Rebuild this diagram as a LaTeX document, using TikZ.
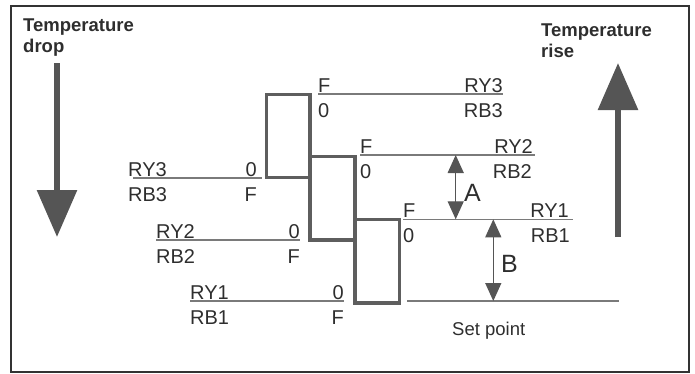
\documentclass[tikz,border=0pt]{standalone}
\usepackage{fontspec}
\setmainfont{Liberation Sans}
\usetikzlibrary{arrows.meta}
\definecolor{txtgray}{HTML}{2E2E2E}
\definecolor{boxgray}{HTML}{5E5E5E}
\definecolor{linegray}{HTML}{7A7A7A}
\definecolor{arrgray}{HTML}{555555}
\definecolor{framegray}{HTML}{333333}
\tikzset{
  lbl/.style={font=\fontsize{20}{24}\selectfont, text=txtgray, inner sep=0pt},
  abvL/.style={lbl, anchor=base west, yshift=2pt},
  belL/.style={lbl, anchor=base west, yshift=-23pt},
  abvR/.style={lbl, anchor=base east, yshift=2pt},
  belR/.style={lbl, anchor=base east, yshift=-23pt},
  ttl/.style={font=\bfseries\fontsize{18.5}{21}\selectfont, text=txtgray, inner sep=0pt, align=left, anchor=north west},
  level/.style={draw=linegray, line width=1.3pt},
  contact/.style={draw=boxgray, line width=3.4pt},
  trend/.style={draw=arrgray, line width=6pt, -{Triangle[width=39pt,length=47pt]}},
  gap/.style={draw=arrgray, line width=1.3pt, {Triangle[width=16pt,length=18pt]}-{Triangle[width=16pt,length=18pt]}},
}
\begin{document}
\begin{tikzpicture}[x=1pt, y=-1pt]
    \useasboundingbox (0,0) rectangle (695,373);
    \draw[framegray, line width=1.3pt] (11,6) rectangle (689,372);

    \node[ttl] (dropT) at (23,19) {Temperature\\drop};
    \node[ttl] (riseT) at (541,23.3) {Temperature\\rise};

    \coordinate (dropS) at (57,63);
    \coordinate (dropE) at (57,237);
    \coordinate (riseS) at (618,237);
    \coordinate (riseE) at (618,63);
    \draw[trend] (dropS) -- (dropE);
    \draw[trend] (riseS) -- (riseE);

    % relay contacts
    \draw[contact] (266.7,94.3) rectangle (310,177.7);
    \draw[contact] (310,156.7) rectangle (355,240);
    \draw[contact] (355,219.3) rectangle (399.3,303);

    % stage 3
    \coordinate (r3a) at (318,94);
    \coordinate (r3b) at (503,94);
    \coordinate (l3a) at (133,178);
    \coordinate (l3b) at (262,178);
    \draw[level] (r3a) -- (r3b);
    \draw[level] (l3a) -- (l3b);
    \node[abvL] (r3F) at (r3a) {F};
    \node[belL] (r3O) at (r3a) {0};
    \node[abvR] (r3Y) at (r3b) {RY3};
    \node[belR] (r3B) at (r3b) {RB3};
    \node[abvL, xshift=-5pt] (l3Y) at (l3a) {RY3};
    \node[belL, xshift=-5pt] (l3B) at (l3a) {RB3};
    \node[abvR, xshift=-5pt] (l3O) at (l3b) {0};
    \node[belR, xshift=-5pt] (l3F) at (l3b) {F};

    % stage 2
    \coordinate (r2a) at (360,155);
    \coordinate (r2b) at (535,155);
    \coordinate (l2a) at (156,240);
    \coordinate (l2b) at (300,240);
    \draw[level] (r2a) -- (r2b);
    \draw[level] (l2a) -- (l2b);
    \node[abvL] (r2F) at (r2a) {F};
    \node[belL] (r2O) at (r2a) {0};
    \node[abvR, xshift=-2pt] (r2Y) at (r2b) {RY2};
    \node[belR, xshift=-3pt] (r2B) at (r2b) {RB2};
    \node[abvL] (l2Y) at (l2a) {RY2};
    \node[belL] (l2B) at (l2a) {RB2};
    \node[abvR] (l2O) at (l2b) {0};
    \node[belR] (l2F) at (l2b) {F};

    % stage 1
    \coordinate (r1a) at (403,219.3);
    \coordinate (r1b) at (573,219.3);
    \coordinate (l1a) at (190,301);
    \coordinate (l1b) at (344,301);
    \draw[level] (r1a) -- (r1b);
    \draw[level] (l1a) -- (l1b);
    \node[abvL] (r1F) at (r1a) {F};
    \node[belL] (r1O) at (r1a) {0};
    \node[abvR, xshift=-4pt] (r1Y) at (r1b) {RY1};
    \node[belR, xshift=-3pt] (r1B) at (r1b) {RB1};
    \node[abvL] (l1Y) at (l1a) {RY1};
    \node[belL] (l1B) at (l1a) {RB1};
    \node[abvR] (l1O) at (l1b) {0};
    \node[belR] (l1F) at (l1b) {F};

    % set point and differentials
    \coordinate (sp1) at (407,301);
    \coordinate (sp2) at (619,301);
    \draw[level] (sp1) -- (sp2);
    \node[lbl, font=\fontsize{18.5}{22}\selectfont, anchor=base west] (setp) at (452,335) {Set point};

    \coordinate (gapA1) at (455.7,155);
    \coordinate (gapA2) at (455.7,219.3);
    \coordinate (gapB1) at (493.3,219.3);
    \coordinate (gapB2) at (493.3,301);
    \draw[gap] (gapA1) -- (gapA2);
    \draw[gap] (gapB1) -- (gapB2);
    \node[lbl, font=\fontsize{25}{30}\selectfont, anchor=base west] (labA) at (464,201) {A};
    \node[lbl, font=\fontsize{25}{30}\selectfont, anchor=base west] (labB) at (501,272.7) {B};
\end{tikzpicture}
\end{document}
